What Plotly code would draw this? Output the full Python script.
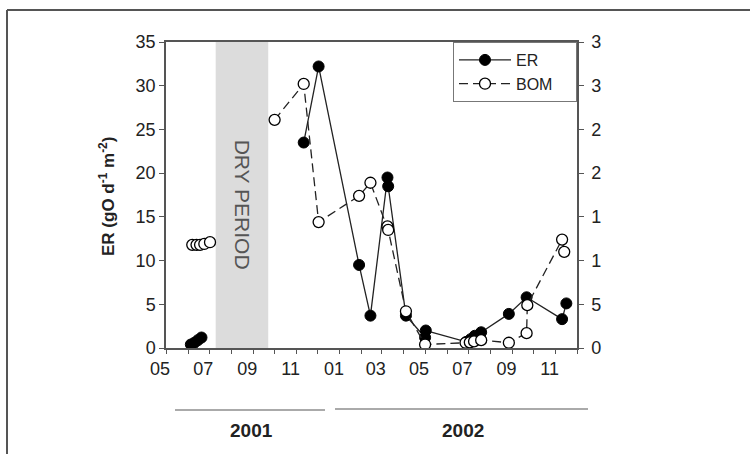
import plotly.graph_objects as go
import pandas as pd

# ---------------- data ----------------
er_dates = ["2001-06-05", "2001-06-10", "2001-06-15", "2001-06-20", None,
            "2001-11-11", "2001-12-02", "2002-01-28", "2002-02-13", "2002-03-09",
            "2002-03-10", "2002-04-04", "2002-05-01", "2002-05-02", "2002-06-28",
            "2002-07-04", "2002-07-10", "2002-07-19", "2002-08-27", "2002-09-21",
            "2002-11-10", "2002-11-16"]
er_values = [0.4, 0.6, 0.9, 1.2, None,
             23.5, 32.2, 9.5, 3.7, 19.5,
             18.5, 3.7, 1.2, 2.0, 0.7,
             1.0, 1.4, 1.8, 3.9, 5.8,
             3.3, 5.1]

bom_dates = ["2001-06-07", "2001-06-13", "2001-06-18", "2001-06-24", "2001-07-02", None,
             "2001-10-01", "2001-11-11", "2001-12-02", "2002-01-28", "2002-02-13",
             "2002-03-09", "2002-03-10", "2002-04-04", "2002-05-01", "2002-06-27",
             "2002-07-03", "2002-07-09", "2002-07-19", "2002-08-27", "2002-09-21",
             "2002-09-22", "2002-11-10", "2002-11-13"]
bom_values = [11.8, 11.8, 11.8, 11.9, 12.1, None,
              26.1, 30.2, 14.4, 17.4, 18.9,
              13.9, 13.5, 4.2, 0.4, 0.6,
              0.65, 0.75, 0.9, 0.6, 1.7,
              4.9, 12.4, 11.0]

dry_start, dry_end = "2001-07-10", "2001-09-22"
x_start, x_end = "2001-05-01", "2002-12-01"
left_ticks = [0, 5, 10, 15, 20, 25, 30, 35]
right_ticktext = ["0", "5", "1", "1", "2", "2", "3", "3"]
year_labels = ["2001", "2002"]

# ---------------- layout geometry (pixels) ----------------
W, H = 750, 454
PL, PR, PT, PB = 166, 577, 42, 348


def px_x(p):
    return (p - PL) / (PR - PL)


def px_y(p):
    return (PB - p) / (PB - PT)


FONT = "Arial, Liberation Sans, sans-serif"
TXT = "#222222"
AX = "#555555"

months = pd.date_range(x_start, x_end, freq="MS")
tickvals = [d.strftime("%Y-%m-%d") for d in months]
ticktext = [d.strftime("%m") if i % 2 == 0 else "" for i, d in enumerate(months)]

fig = go.Figure()

fig.add_trace(go.Scatter(
    x=er_dates, y=er_values, name="ER&nbsp;&nbsp;&nbsp;&nbsp;", mode="lines+markers",
    line=dict(color="#222222", width=1.3),
    marker=dict(symbol="circle", size=11, color="#000000",
                line=dict(color="#000000", width=1)),
))
fig.add_trace(go.Scatter(
    x=bom_dates, y=bom_values, name="BOM&nbsp;&nbsp;&nbsp;&nbsp;", mode="lines+markers", yaxis="y2",
    line=dict(color="#222222", width=1.3, dash="9px,5px"),
    marker=dict(symbol="circle", size=11, color="#ffffff",
                line=dict(color="#000000", width=1.3)),
))

shapes = [
    dict(type="rect", xref="x", yref="paper", x0=dry_start, x1=dry_end, y0=0, y1=1,
         fillcolor="#dcdcdc", line=dict(width=0), layer="below"),
    # year bars
    dict(type="line", xref="paper", yref="paper", x0=px_x(175), x1=px_x(325),
         y0=px_y(410), y1=px_y(410), line=dict(color="#aaaaaa", width=2)),
    dict(type="line", xref="paper", yref="paper", x0=px_x(335), x1=px_x(588),
         y0=px_y(409), y1=px_y(409), line=dict(color="#aaaaaa", width=2)),
    # outer frame (top and left)
    dict(type="line", xref="paper", yref="paper", x0=px_x(7), x1=px_x(752),
         y0=px_y(10), y1=px_y(10), line=dict(color="#555555", width=2)),
    dict(type="line", xref="paper", yref="paper", x0=px_x(7), x1=px_x(7),
         y0=px_y(10), y1=px_y(456), line=dict(color="#555555", width=2)),
]

annotations = [
    dict(x="2001-08-16", y=16.4, xref="x", yref="y", text="DRY PERIOD", textangle=90,
         showarrow=False, xanchor="center", yanchor="middle",
         font=dict(family=FONT, size=21, color="#555555")),
    dict(x=px_x(251), y=px_y(430), xref="paper", yref="paper", text="<b>%s</b>" % year_labels[0],
         showarrow=False, xanchor="center", yanchor="middle",
         font=dict(family=FONT, size=19, color=TXT)),
    dict(x=px_x(463), y=px_y(430), xref="paper", yref="paper", text="<b>%s</b>" % year_labels[1],
         showarrow=False, xanchor="center", yanchor="middle",
         font=dict(family=FONT, size=19, color=TXT)),
    dict(x=px_x(107), y=px_y(197), xref="paper", yref="paper",
         text="<b>ER (gO d<sup>-1</sup> m<sup>-2</sup>)</b>", textangle=-90,
         showarrow=False, xanchor="center", yanchor="middle",
         font=dict(family=FONT, size=17, color=TXT)),
]

fig.update_layout(
    width=W, height=H,
    margin=dict(l=PL, r=W - PR, t=PT, b=H - PB, pad=0),
    paper_bgcolor="white", plot_bgcolor="white",
    font=dict(family=FONT, size=18, color=TXT),
    showlegend=True,
    legend=dict(x=1, xanchor="right", y=1, yanchor="top",
                bordercolor="#777777", borderwidth=1, bgcolor="white",
                font=dict(family=FONT, size=16, color=TXT), itemwidth=52,
                tracegroupgap=0),
    xaxis=dict(type="date", range=[x_start, x_end], tickmode="array",
               tickvals=tickvals, ticktext=ticktext, ticks="outside", ticklen=4,
               tickcolor=AX, showgrid=False, zeroline=False, showline=True,
               linecolor=AX, linewidth=1.5, mirror=True, ticklabelshift=-6,
               tickfont=dict(family=FONT, size=18, color=TXT)),
    yaxis=dict(range=[0, 35], tickmode="array", tickvals=left_ticks,
               ticks="outside", ticklen=5, tickcolor=AX, showgrid=False,
               zeroline=False, showline=True, linecolor=AX, linewidth=1.5,
               tickfont=dict(family=FONT, size=18, color=TXT)),
    yaxis2=dict(range=[0, 35], overlaying="y", side="right", tickmode="array",
                tickvals=left_ticks, ticktext=right_ticktext, ticks="outside",
                ticklen=5, tickcolor=AX, showgrid=False, zeroline=False,
                showline=True, linecolor=AX, linewidth=1.5, ticklabelstandoff=4,
                tickfont=dict(family=FONT, size=18, color=TXT)),
    shapes=shapes,
    annotations=annotations,
)

fig.write_html("out.html", config={"displayModeBar": False},
               post_script="document.body.style.margin='0px';document.body.style.overflow='hidden';")
